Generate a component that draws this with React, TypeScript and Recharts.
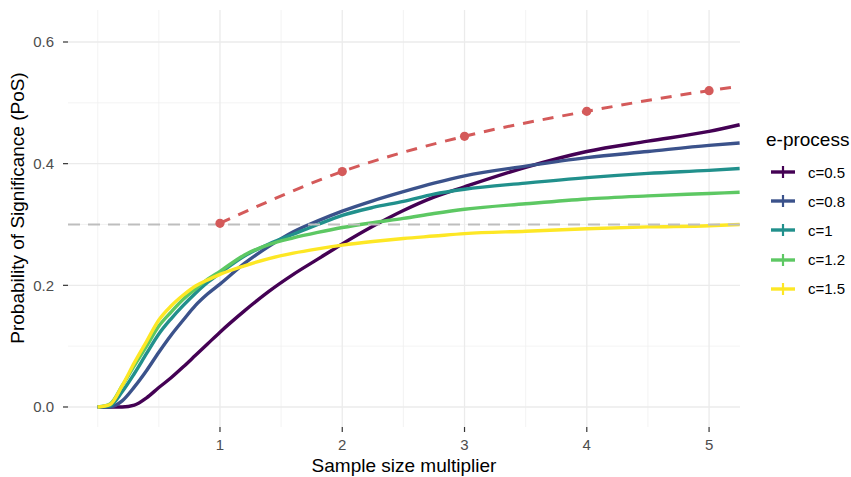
import { LineChart, Line, XAxis, YAxis, CartesianGrid, ReferenceLine } from 'recharts';

// sample size multiplier grid where the e-process curves were read
const xs = [0, 0.1, 0.2, 0.3, 0.4, 0.5, 0.6, 0.7, 0.8, 0.9, 1.0, 1.2, 1.4, 1.6, 1.8, 2.0, 2.25, 2.5, 2.75, 3.0, 3.5, 4.0, 4.5, 5.0, 5.25];

const c05 = [0, 0, 0, 0.003, 0.015, 0.032, 0.048, 0.066, 0.085, 0.104, 0.123, 0.158, 0.19, 0.218, 0.243, 0.268, 0.297, 0.323, 0.345, 0.362, 0.394, 0.42, 0.437, 0.453, 0.464];
const c08 = [0, 0, 0.01, 0.033, 0.06, 0.09, 0.118, 0.143, 0.167, 0.186, 0.202, 0.236, 0.264, 0.288, 0.306, 0.322, 0.339, 0.354, 0.368, 0.38, 0.396, 0.41, 0.42, 0.43, 0.434];
const c10 = [0, 0.002, 0.025, 0.055, 0.088, 0.12, 0.145, 0.167, 0.187, 0.205, 0.22, 0.248, 0.268, 0.284, 0.3, 0.315, 0.328, 0.338, 0.35, 0.358, 0.368, 0.377, 0.384, 0.389, 0.392];
const c12 = [0, 0.005, 0.035, 0.068, 0.1, 0.133, 0.156, 0.177, 0.194, 0.21, 0.223, 0.25, 0.267, 0.278, 0.287, 0.295, 0.303, 0.31, 0.318, 0.325, 0.334, 0.342, 0.347, 0.351, 0.353];
const c15 = [0, 0.004, 0.035, 0.073, 0.108, 0.143, 0.166, 0.184, 0.199, 0.209, 0.218, 0.232, 0.244, 0.253, 0.26, 0.266, 0.272, 0.277, 0.281, 0.285, 0.289, 0.293, 0.296, 0.298, 0.3];

const seriesNames = ['c=0.5', 'c=0.8', 'c=1', 'c=1.2', 'c=1.5'];
const seriesColors = ['#440154', '#3B528B', '#21908C', '#5DC863', '#FDE725'];
const seriesValues = [c05, c08, c10, c12, c15];

// fixed-design PoS (red dashed)
const posX = [1, 2, 3, 4, 5, 5.25];
const posY = [0.302, 0.387, 0.445, 0.486, 0.52, 0.527];

const xTicks = [1, 2, 3, 4, 5];
const xMinor = [0, 0.5, 1.5, 2.5, 3.5, 4.5];
const yTicks = [0, 0.2, 0.4, 0.6];
const yMinor = [0.1, 0.3, 0.5];
const targetPoS = 0.3;

const table = xs.map((x, i) => {
  const row: Record<string, number> = { x };
  seriesValues.forEach((vals, k) => { row[`s${k}`] = vals[i]; });
  return row;
});
const posData = posX.map((x, i) => ({ x, y: posY[i] }));

const FONT = '"Liberation Sans", Arial, Helvetica, sans-serif';
const tickStyle = { fontSize: 15, fill: '#4D4D4D', fontFamily: FONT };

// eslint-disable-next-line @typescript-eslint/no-explicit-any
const PosDot = (props: any) => {
  const { cx, cy, payload, index } = props;
  if (!Number.isInteger(payload.x)) return <g key={`d${index}`} />;
  return <circle key={`d${index}`} cx={cx} cy={cy} r={4.6} fill="#D45A5A" stroke="none" />;
};

const Legend = () => (
  <div style={{ position: 'absolute', left: 0, top: 0, fontFamily: FONT }}>
    <div style={{ position: 'absolute', left: 766, top: 129, fontSize: 19, lineHeight: '22px', whiteSpace: 'nowrap' }}>
      e-process
    </div>
    {seriesNames.map((name, i) => (
      <div key={name} style={{ position: 'absolute', left: 770, top: 172 + i * 29.2 - 10, height: 20, display: 'flex', alignItems: 'center' }}>
        <svg width={26} height={14} style={{ display: 'block' }}>
          <line x1={1} x2={25} y1={7} y2={7} stroke={seriesColors[i]} strokeWidth={3.4} />
          <line x1={13} x2={13} y1={1} y2={13} stroke={seriesColors[i]} strokeWidth={2.2} />
        </svg>
        <span style={{ marginLeft: 12, fontSize: 15, color: '#000', whiteSpace: 'nowrap' }}>{name}</span>
      </div>
    ))}
  </div>
);

export default function App() {
  return (
    <div style={{ position: 'absolute', left: 0, top: 0, width: 851, height: 477, background: '#fff', fontFamily: FONT }}>
      <LineChart width={851} height={477} data={table} margin={{ top: 10, right: 111, bottom: 0, left: 0 }}>
        <CartesianGrid stroke="#F0F0F0" strokeWidth={0.8} verticalValues={xMinor} horizontalValues={yMinor} />
        <CartesianGrid stroke="#EBEBEB" strokeWidth={1.3} verticalValues={xTicks} horizontalValues={yTicks} />
        <XAxis
          dataKey="x"
          type="number"
          domain={[-0.243, 5.253]}
          ticks={xTicks}
          allowDataOverflow
          axisLine={false}
          tickLine={{ stroke: '#333333', strokeWidth: 1.2 }}
          tickSize={5}
          tickMargin={7}
          height={50}
          tick={tickStyle}
        />
        <YAxis
          type="number"
          domain={[-0.0329, 0.6526]}
          ticks={yTicks}
          allowDataOverflow
          tickFormatter={(v: number) => v.toFixed(1)}
          axisLine={false}
          tickLine={{ stroke: '#333333', strokeWidth: 1.2 }}
          tickSize={5}
          tickMargin={9}
          width={68}
          tick={tickStyle}
        />
        {seriesNames.map((name, i) => (
          <Line
            key={name}
            name={name}
            type="monotone"
            dataKey={`s${i}`}
            stroke={seriesColors[i]}
            strokeWidth={3.4}
            dot={false}
            activeDot={false}
            isAnimationActive={false}
          />
        ))}
        <ReferenceLine y={targetPoS} stroke="#BEBEBE" strokeWidth={2} strokeDasharray="12 8" />
        <Line
          data={posData}
          type="monotone"
          dataKey="y"
          stroke="#D45A5A"
          strokeWidth={3}
          strokeDasharray="11 9"
          dot={PosDot}
          activeDot={false}
          isAnimationActive={false}
        />
      </LineChart>
      <div style={{ position: 'absolute', left: 18, top: 208, transform: 'translate(-50%, -50%) rotate(-90deg)', fontSize: 19, whiteSpace: 'nowrap', color: '#000' }}>
        Probability of Significance (PoS)
      </div>
      <div style={{ position: 'absolute', left: 404, top: 466, transform: 'translate(-50%, -50%)', fontSize: 19, whiteSpace: 'nowrap', color: '#000' }}>
        Sample size multiplier
      </div>
      <Legend />
    </div>
  );
}
